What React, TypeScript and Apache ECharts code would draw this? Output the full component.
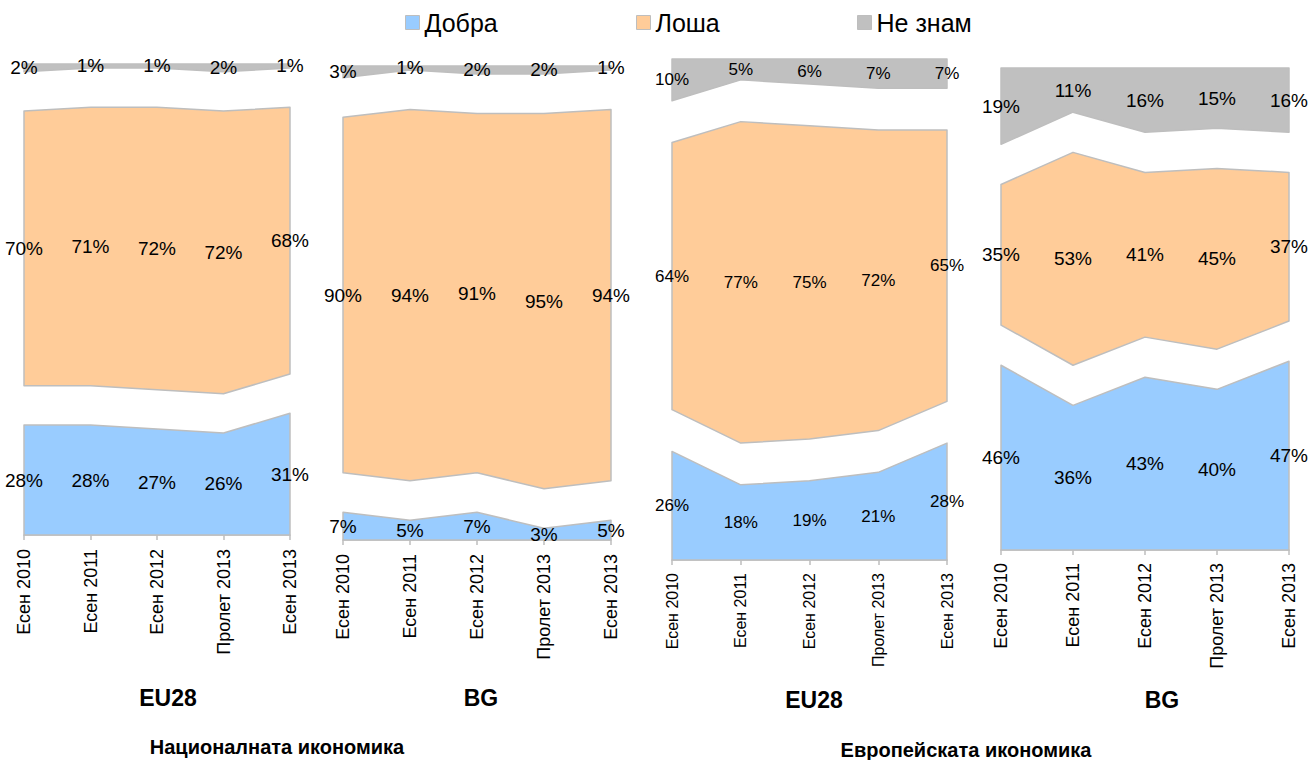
import React, { useEffect, useRef } from "react";
import * as echarts from "echarts";

const categories = ["Есен 2010", "Есен 2011", "Есен 2012", "Пролет 2013", "Есен 2013"];
const seriesNames = ["Добра", "Лоша", "Не знам"];
const colors = ["#99CCFF", "#FFCC99", "#C0C0C0"];

// Националната икономика – EU28
const natEuGood = [28, 28, 27, 26, 31];
const natEuBad = [70, 71, 72, 72, 68];
const natEuDk = [2, 1, 1, 2, 1];
// Националната икономика – BG
const natBgGood = [7, 5, 7, 3, 5];
const natBgBad = [90, 94, 91, 95, 94];
const natBgDk = [3, 1, 2, 2, 1];
// Европейската икономика – EU28
const euEuGood = [26, 18, 19, 21, 28];
const euEuBad = [64, 77, 75, 72, 65];
const euEuDk = [10, 5, 6, 7, 7];
// Европейската икономика – BG
const euBgGood = [46, 36, 43, 40, 47];
const euBgBad = [35, 53, 41, 45, 37];
const euBgDk = [19, 11, 16, 15, 16];

const GAP = 10;
const panelTitles = ["EU28", "BG", "EU28", "BG"];
const groupTitles = ["Националната икономика", "Европейската икономика"];

const FONT = "Arial, 'Liberation Sans', sans-serif";
const BORDER = "#BEBEBE";

const panels = [
  { data: [natEuGood, natEuBad, natEuDk], left: 24, width: 266, top: 64, height: 471, fs: 19, afs: 18, m: 14 },
  { data: [natBgGood, natBgBad, natBgDk], left: 343, width: 268, top: 66, height: 474, fs: 19, afs: 18, m: 14 },
  { data: [euEuGood, euEuBad, euEuDk], left: 672, width: 275, top: 59, height: 501, fs: 17, afs: 16, m: 13 },
  { data: [euBgGood, euBgBad, euBgDk], left: 1001, width: 288, top: 68, height: 482, fs: 19, afs: 18, m: 13 },
];

function bandSeries(gi: number, si: number, lower: number[], values: number[], fs: number) {
  const color = colors[si];
  const data = values.map((v, i) => [i, lower[i], lower[i] + v, v]);
  return {
    type: "custom",
    name: seriesNames[si],
    xAxisIndex: gi,
    yAxisIndex: gi,
    itemStyle: { color },
    encode: { x: 0, y: [1, 2] },
    data,
    z: 2 + si,
    renderItem: (params: any, api: any) => {
      const children: any[] = [];
      if (params.dataIndexInside === 0) {
        const n = params.dataInsideLength;
        const top: number[][] = [];
        const bot: number[][] = [];
        for (let i = 0; i < n; i++) {
          top.push(api.coord([api.value(0, i), api.value(2, i)]));
          bot.push(api.coord([api.value(0, i), api.value(1, i)]));
        }
        children.push({
          type: "polygon",
          shape: { points: top.concat(bot.reverse()) },
          style: { fill: color, stroke: BORDER, lineWidth: 1.5, lineJoin: "round" },
        });
      }
      const mid = api.coord([api.value(0), (api.value(1) + api.value(2)) / 2]);
      children.push({
        type: "text",
        x: mid[0],
        y: mid[1],
        z2: 10,
        style: {
          text: api.value(3) + "%",
          fill: "#000",
          font: `${fs}px ${FONT}`,
          align: "center",
          verticalAlign: "middle",
          textAlign: "center",
          textVerticalAlign: "middle",
        },
      });
      return { type: "group", children };
    },
  };
}

export default function App() {
  const ref = useRef<HTMLDivElement>(null);
  useEffect(() => {
    if (!ref.current) return;
    const chart = echarts.init(ref.current, undefined, { renderer: "svg" });
    const grid: any[] = [];
    const xAxis: any[] = [];
    const yAxis: any[] = [];
    const series: any[] = [];
    panels.forEach((p, gi) => {
      grid.push({ left: p.left, top: p.top, width: p.width, height: p.height, containLabel: false });
      xAxis.push({
        type: "category",
        gridIndex: gi,
        data: categories,
        boundaryGap: false,
        axisLine: { show: true, lineStyle: { color: BORDER, width: 1.5 } },
        axisTick: { show: true, length: 5, lineStyle: { color: BORDER, width: 1.5 } },
        axisLabel: { rotate: 90, interval: 0, fontSize: p.afs, color: "#000", margin: p.m, fontFamily: FONT },
        splitLine: { show: false },
        z: 1,
      });
      yAxis.push({ type: "value", gridIndex: gi, min: 0, max: 120, show: false, splitLine: { show: false } });
      const [good, bad, dk] = p.data;
      const lowGood = good.map(() => 0);
      const lowBad = good.map((g) => g + GAP);
      const lowDk = good.map((g, i) => g + GAP + bad[i] + GAP);
      series.push(bandSeries(gi, 0, lowGood, good, p.fs));
      series.push(bandSeries(gi, 1, lowBad, bad, p.fs));
      series.push(bandSeries(gi, 2, lowDk, dk, p.fs));
    });

    const legendLefts = [405, 636, 857];
    const legend = seriesNames.map((name, i) => ({
      left: legendLefts[i],
      top: 10,
      padding: 0,
      icon: "rect",
      itemWidth: 14,
      itemHeight: 14,
      selectedMode: false,
      textStyle: { fontSize: 25, color: "#000", fontFamily: FONT },
      data: [{ name, itemStyle: { color: colors[i], borderColor: BORDER, borderWidth: 1 } }],
    }));

    const titleText = (text: string, x: number, y: number, size: number) => ({
      type: "text",
      x,
      y,
      style: {
        text,
        fill: "#000",
        font: `bold ${size}px ${FONT}`,
        align: "center",
        verticalAlign: "middle",
        textAlign: "center",
        textVerticalAlign: "middle",
      },
    });

    chart.setOption({
      animation: false,
      backgroundColor: "#fff",
      grid,
      xAxis,
      yAxis,
      legend,
      series,
      graphic: [
        titleText(panelTitles[0], 168, 698, 23),
        titleText(panelTitles[1], 481, 698, 23),
        titleText(panelTitles[2], 814, 700, 23),
        titleText(panelTitles[3], 1162, 700, 23),
        titleText(groupTitles[0], 277, 747, 20),
        titleText(groupTitles[1], 966, 750, 20),
      ],
    });
    return () => chart.dispose();
  }, []);
  return (
    <div
      ref={ref}
      style={{ position: "absolute", left: 0, top: 0, width: 1308, height: 760 }}
    />
  );
}
